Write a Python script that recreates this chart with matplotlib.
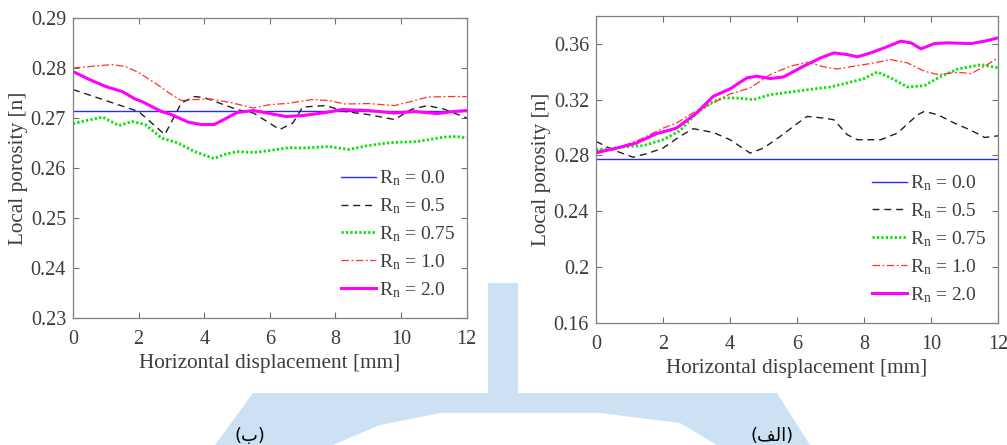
import numpy as np
import matplotlib
matplotlib.use("Agg")
import matplotlib.pyplot as plt
from matplotlib.patches import Polygon, Rectangle

# ---- data: panel (b), left ----
xb_blue = [0, 12]
yb_blue = [0.2715, 0.2715]
xb_05 = [0, 2, 2.8, 3.3, 3.7, 4, 5, 5.5, 6.3, 6.7, 7, 7.7, 8.3, 9, 9.8, 10.3, 10.8, 11.3, 12]
yb_05 = [0.2757, 0.2713, 0.2667, 0.2730, 0.2743, 0.2741, 0.2717, 0.2710, 0.2677, 0.2690,
         0.2722, 0.2725, 0.2713, 0.2707, 0.2697, 0.2717, 0.2725, 0.2718, 0.2700]
xb_075 = [0, 0.9, 1.4, 1.8, 2.2, 2.7, 3.2, 3.7, 4.3, 4.6, 5, 5.5, 6, 6.6, 7, 7.8, 8.4, 9,
          9.7, 10.5, 11.3, 11.7, 12]
yb_075 = [0.2689, 0.2702, 0.2685, 0.2693, 0.2687, 0.2660, 0.2650, 0.2633, 0.2619, 0.2627,
          0.2633, 0.2631, 0.2635, 0.2641, 0.2640, 0.2643, 0.2637, 0.2645, 0.2651, 0.2653,
          0.2662, 0.2663, 0.2660]
xb_10 = [0, 1.2, 1.6, 2, 2.5, 3, 3.3, 3.7, 4.2, 4.8, 5.5, 6, 6.5, 7.3, 7.8, 8.3, 9, 9.8,
         10.3, 10.8, 11.5, 12]
yb_10 = [0.2800, 0.2807, 0.2803, 0.2791, 0.2770, 0.2747, 0.2735, 0.2737, 0.2738, 0.2731,
         0.2720, 0.2727, 0.2729, 0.2737, 0.2735, 0.2728, 0.2729, 0.2725, 0.2733, 0.2742,
         0.2743, 0.2743]
xb_20 = [0, 0.5, 1, 1.5, 1.9, 2.1, 2.4, 2.7, 3, 3.5, 3.9, 4.3, 4.6, 5, 5.5, 6, 6.5, 7,
         7.7, 8.2, 9, 9.8, 10.4, 11.1, 11.6, 12]
yb_20 = [0.2793, 0.2777, 0.2763, 0.2753, 0.2738, 0.2733, 0.2723, 0.2713, 0.2707, 0.2692,
         0.2687, 0.2687, 0.2697, 0.2711, 0.2715, 0.2709, 0.2703, 0.2705, 0.2711, 0.2717,
         0.2715, 0.2710, 0.2713, 0.2709, 0.2713, 0.2715]

# ---- data: panel (alef), right ----
xa_blue = [0, 12]
ya_blue = [0.2776, 0.2776]
xa_05 = [0, 0.5, 1.1, 1.5, 2, 2.5, 2.9, 3.5, 4, 4.6, 5, 5.5, 6, 6.3, 6.8, 7.1, 7.5, 7.8,
         8.5, 9, 9.6, 9.8, 10.2, 10.7, 11.2, 11.6, 12]
ya_05 = [0.2901, 0.2841, 0.2788, 0.2812, 0.2853, 0.2937, 0.2992, 0.2965, 0.2913, 0.2817,
         0.2853, 0.2937, 0.3028, 0.3080, 0.3068, 0.3056, 0.2949, 0.2913, 0.2913, 0.2961,
         0.3092, 0.3116, 0.3092, 0.3032, 0.2980, 0.2929, 0.2941]
xa_075 = [0, 0.5, 1, 1.4, 2, 2.5, 3, 3.5, 3.8, 4.2, 4.7, 5.2, 5.8, 6.5, 7, 7.5, 8, 8.4,
          8.8, 9.3, 9.8, 10.3, 10.8, 11.5, 12]
ya_075 = [0.2841, 0.2853, 0.2865, 0.2870, 0.2913, 0.2977, 0.3104, 0.3188, 0.3212, 0.3212,
          0.3200, 0.3236, 0.3255, 0.3277, 0.3291, 0.3320, 0.3351, 0.3399, 0.3356, 0.3291,
          0.3300, 0.3368, 0.3420, 0.3451, 0.3428]
xa_10 = [0, 0.5, 1.3, 2, 2.4, 3, 3.5, 4, 4.6, 5.2, 5.8, 6.3, 6.8, 7.2, 7.7, 8.2, 8.8,
         9.3, 9.8, 10.2, 10.8, 11.2, 11.6, 12]
ya_10 = [0.2812, 0.2841, 0.2913, 0.2996, 0.3032, 0.3121, 0.3176, 0.3241, 0.3284, 0.3380,
         0.3440, 0.3468, 0.3435, 0.3420, 0.3440, 0.3459, 0.3487, 0.3463, 0.3404, 0.3380,
         0.3396, 0.3387, 0.3440, 0.3499]
xa_20 = [0, 0.5, 1.2, 1.8, 2.4, 3, 3.5, 4, 4.5, 4.8, 5.2, 5.6, 6.2, 6.7, 7.1, 7.5, 7.8,
         8.2, 8.6, 9.1, 9.4, 9.7, 10.1, 10.5, 11.2, 11.6, 12]
ya_20 = [0.2822, 0.2846, 0.2889, 0.2956, 0.2996, 0.3104, 0.3224, 0.3277, 0.3356, 0.3368,
         0.3351, 0.3363, 0.3440, 0.3499, 0.3535, 0.3523, 0.3507, 0.3535, 0.3571, 0.3619,
         0.3607, 0.3564, 0.3602, 0.3607, 0.3602, 0.3619, 0.3643]

labels = ['R$_\\mathregular{n}$ = 0.0', 'R$_\\mathregular{n}$ = 0.5',
          'R$_\\mathregular{n}$ = 0.75', 'R$_\\mathregular{n}$ = 1.0',
          'R$_\\mathregular{n}$ = 2.0']

plt.rcParams['font.family'] = ['Liberation Serif', 'DejaVu Serif']
plt.rcParams['mathtext.fontset'] = 'custom'
plt.rcParams['mathtext.rm'] = 'Liberation Serif'
plt.rcParams['mathtext.it'] = 'Liberation Serif:italic'

txt = '#3c3c3c'
styles = [
    dict(color='#2a2aff', lw=1.0, ls='-'),
    dict(color='#202020', lw=1.0, ls=(0, (5, 3.5))),
    dict(color='#00e400', lw=2.0, ls=(0, (0.8, 0.8))),
    dict(color='#ff3030', lw=0.9, ls=(0, (6, 2, 1.5, 2))),
    dict(color='#ff00ff', lw=2.2, ls='-'),
]

fig = plt.figure(figsize=(10.07, 4.45), dpi=100)

# faint watermark logo in the background (pixel coordinates)
bg = fig.add_axes([0, 0, 1, 1], zorder=-5)
bg.set_xlim(0, 1007)
bg.set_ylim(445, 0)
bg.axis('off')
wm = '#cde1f4'
bg.add_patch(Polygon([(215, 445), (253, 393), (777, 393), (810, 445)],
                     closed=True, color=wm, lw=0))
bg.add_patch(Polygon([(333, 445), (380, 425), (440, 413), (600, 413), (680, 423),
                      (717, 445)], closed=True, color='white', lw=0))
bg.add_patch(Rectangle((488, 283), 30, 111, color=wm, lw=0))


def draw(ax, series, ylim, yticks, yfmt):
    for (x, y), st, lab in zip(series, styles, labels):
        ax.plot(x, y, label=lab, **st)
    ax.set_xlim(0, 12)
    ax.set_ylim(*ylim)
    ax.set_xticks(np.arange(0, 13, 2))
    ax.set_yticks(yticks)
    ax.set_yticklabels([yfmt(v) for v in yticks])
    ax.tick_params(direction='in', top=True, right=True, length=4, width=0.8,
                   color='#707070', labelsize=14.5, labelcolor=txt)
    ax.tick_params(axis='x', pad=9)
    ax.tick_params(axis='y', pad=5)
    for s in ax.spines.values():
        s.set_color('#808080')
        s.set_linewidth(0.9)
    ax.set_xlabel('Horizontal displacement [mm]', fontsize=15.3, color=txt, labelpad=3)
    ax.set_ylabel('Local porosity [n]', fontsize=15.3, color=txt, labelpad=2)
    leg = ax.legend(loc='lower right', bbox_to_anchor=(1.0, 0.022), frameon=False,
                    fontsize=14, handlelength=1.8, handletextpad=0.15,
                    labelspacing=0.42, borderaxespad=0.2)
    for t in leg.get_texts():
        t.set_color(txt)


ax1 = fig.add_axes([0.0725, 0.2854, 0.391, 0.674])
draw(ax1, [(xb_blue, yb_blue), (xb_05, yb_05), (xb_075, yb_075), (xb_10, yb_10),
           (xb_20, yb_20)],
     (0.23, 0.29), np.arange(0.23, 0.2901, 0.01), lambda v: '%.2f' % v)

ax2 = fig.add_axes([0.5919, 0.2742, 0.3992, 0.690])
draw(ax2, [(xa_blue, ya_blue), (xa_05, ya_05), (xa_075, ya_075), (xa_10, ya_10),
           (xa_20, ya_20)],
     (0.16, 0.38), [0.16, 0.2, 0.24, 0.28, 0.32, 0.36], lambda v: ('%.2f' % v).rstrip('0'))

# panel captions (Persian), glyphs given in visual order
fig.text(250 / 1007, 1 - 436 / 445, '(\ufe8f)', family='DejaVu Sans', fontsize=13,
         ha='center', va='center', color='black')
fig.text(772 / 1007, 1 - 436 / 445, '(\ufed2\ufedf\ufe8d)', family='DejaVu Sans',
         fontsize=13, ha='center', va='center', color='black')

fig.savefig('out.png', dpi=100)
